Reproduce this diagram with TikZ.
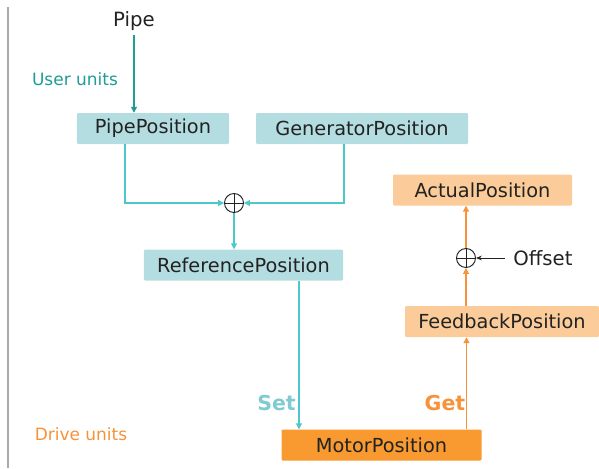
\documentclass[tikz,border=0pt]{standalone}
\usepackage{fontspec}
\setmainfont{DejaVu Sans}
\usetikzlibrary{arrows.meta,calc}
\definecolor{userbox}{HTML}{B4DDE1}
\definecolor{userline}{HTML}{4CC8CB}
\definecolor{userink}{HTML}{1E9C96}
\definecolor{setink}{HTML}{80CAD2}
\definecolor{drivebox}{HTML}{F89A30}
\definecolor{drivelight}{HTML}{FBCC9A}
\definecolor{driveline}{HTML}{F7923A}
\definecolor{ink}{HTML}{222222}
\definecolor{frameline}{HTML}{AAAAAA}
\tikzset{
  posbox/.style={minimum height=0.93cm,inner sep=0pt,rounded corners=1pt,text=ink,
    font=\fontsize{16.5}{19}\selectfont},
  userpos/.style={posbox,fill=userbox},
  drivepos/.style={posbox,fill=drivelight},
  sumjoint/.style={circle,draw=ink,line width=0.8pt,minimum size=0.57cm,inner sep=0pt,
    path picture={\draw[ink,line width=0.8pt]
      (path picture bounding box.north)--(path picture bounding box.south)
      (path picture bounding box.west)--(path picture bounding box.east);}},
  usercon/.style={draw=userline,line width=0.9pt,-{Triangle[length=5pt,width=5pt]}},
  drivecon/.style={draw=driveline,line width=0.9pt,-{Triangle[length=5pt,width=5pt]}},
  unitlbl/.style={font=\fontsize{14.5}{17}\selectfont},
  dirlbl/.style={font=\fontsize{17.5}{20}\selectfont\bfseries}
}

\begin{document}
\begin{tikzpicture}[x=0.03cm,y=-0.03cm]
    \useasboundingbox (0,0) rectangle (599,468);
    \draw[frameline,line width=1.7pt] (8,7) -- (8,468);
    % user side
    \node[font=\fontsize{16.8}{19}\selectfont,text=ink] (pipe) at (134,21) {Pipe};
    \node[unitlbl,text=userink] (userunits) at (75,79) {User units};
    \node[userpos,minimum width=4.56cm] (pipepos) at (153,128.5) {PipePosition};
    \node[userpos,minimum width=6.36cm] (genpos) at (362,128.5) {GeneratorPosition};
    \node[sumjoint] (sumref) at (234,203) {};
    \node[userpos,minimum width=5.97cm] (refpos) at (243.5,265) {ReferencePosition};
    % drive side
    \node[posbox,fill=drivebox,minimum width=6cm] (motorpos) at (381.5,445) {MotorPosition};
    \node[drivepos,minimum width=5.82cm] (feedpos) at (502,321.5) {FeedbackPosition};
    \node[sumjoint] (sumact) at (466,258) {};
    \node[font=\fontsize{16.8}{19}\selectfont,text=ink] (offset) at (543,258) {Offset};
    \node[drivepos,minimum width=5.37cm] (actualpos) at (482.5,190) {ActualPosition};
    \node[unitlbl,text=driveline] (driveunits) at (81,434) {Drive units};
    \node[dirlbl,text=setink] (setlbl) at (276.5,403) {Set};
    \node[dirlbl,text=driveline] (getlbl) at (445,403) {Get};

    \draw[draw=userink,line width=0.9pt,-{Triangle[length=5pt,width=5pt]}]
      (pipe) -- (pipepos.north -| pipe);
    \draw[usercon] ($(pipepos.south)+(-28,0)$) |- (sumref);
    \draw[usercon] ($(genpos.south)+(-18,0)$) |- (sumref);
    \draw[usercon] (sumref.south) -- (sumref.south |- refpos.north);
    \draw[usercon] ($(refpos.south)+(55.5,0)$) coordinate (setpt)
      -- (setpt |- motorpos.north);
    \draw[drivecon] ($(motorpos.north)+(85,0)$) coordinate (getpt)
      -- (getpt |- feedpos.south);
    \draw[drivecon] (sumact.south |- feedpos.north) -- (sumact.south);
    \draw[drivecon] (sumact.north) -- (sumact.north |- actualpos.south);
    \draw[ink,line width=0.8pt,-{Stealth[length=5pt,width=4pt]}]
      ([xshift=-4pt]offset.west) -- (sumact.east);
\end{tikzpicture}
\end{document}
